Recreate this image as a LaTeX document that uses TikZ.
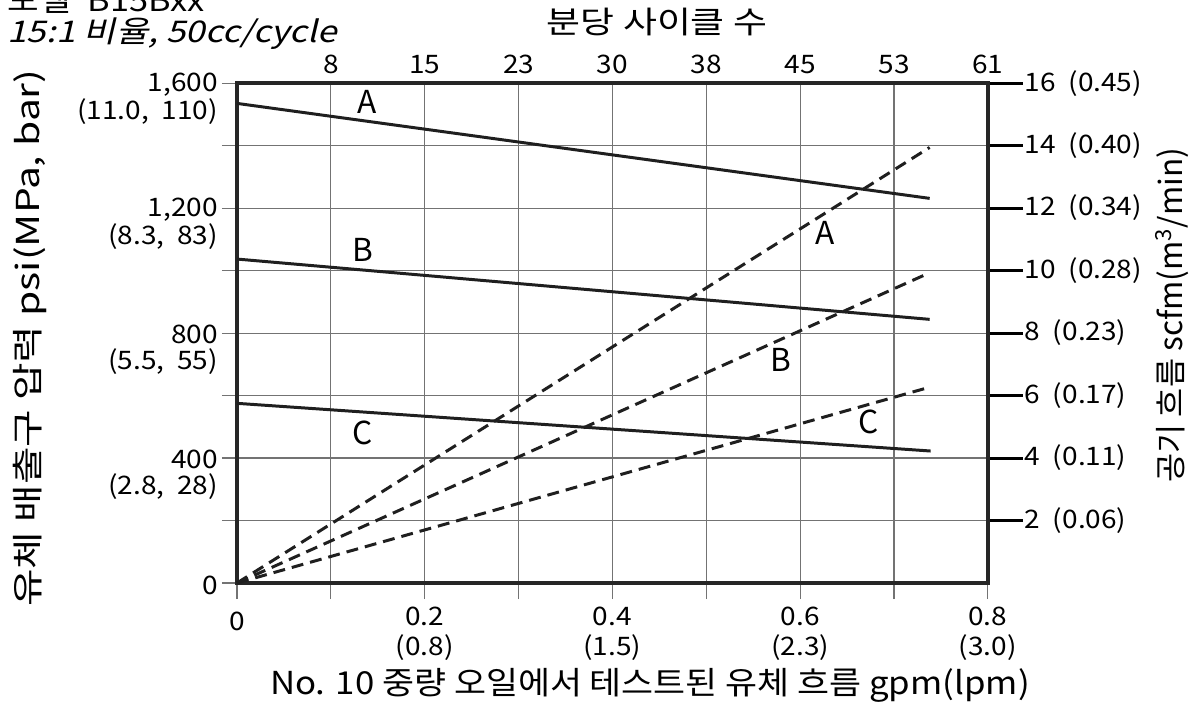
\documentclass[tikz,border=0pt]{standalone}
\usepackage{fontspec}
\newfontfamily\krfont{Noto Sans CJK KR}
\newfontfamily\krslant[FakeSlant=0.2]{Noto Sans CJK KR}
\newcommand\lgap{\hspace{0.45em}}
\usetikzlibrary{positioning}

\begin{document}
\begin{tikzpicture}[x=0.02cm,y=0.02cm,
    grid line/.style={black!55,line width=0.6pt},
    curve line/.style={black!88,line width=1.7pt},
    air line/.style={black!88,line width=1.7pt,dash pattern=on 6.8pt off 4pt},
    frame line/.style={black!85,line width=1.9pt},
    tick label/.style={font=\krfont\fontsize{14.5}{16}\selectfont,inner sep=0pt,xscale=1.1},
    axis title/.style={font=\krfont\fontsize{18}{20}\selectfont,inner sep=0pt},
    curve label/.style={font=\krfont\fontsize{18}{20}\selectfont,inner sep=0pt}]

    \useasboundingbox (0,0) rectangle (1191,706);

    \node[anchor=base west,inner sep=0pt,xscale=1.15,font=\krfont\fontsize{17}{19}\selectfont] (model) at (7,694) {모델\hspace{0.5em}B15Bxx};
    \node[anchor=base west,inner sep=0pt,xscale=1.18,font=\krslant\fontsize{17}{19}\selectfont] (ratio) at (7,663) {15:1 비율, 50cc/cycle};
    \node[inner sep=0pt,xscale=1.2,font=\krfont\fontsize{17.5}{19}\selectfont] (cycles) at (657,684) {분당 사이클 수};

    \node[axis title,xscale=1.1] (xtitle) at (650,21) {No. 10 중량 오일에서 테스트된 유체 흐름 gpm(lpm)};
    \node[axis title,rotate=90,xscale=1.29] (ytitle) at (30,368) {유체 배출구 압력 psi(MPa, bar)};
    \node[axis title,rotate=90] (airtitle) at (1172,391) {공기 흐름 scfm(m\textsuperscript{3}/min)};

    \begin{scope}[shift={(237,123)},x=1.8775cm,y=1.25cm]
        \coordinate (O) at (0,0);

        % grid
        \foreach \k in {1,...,7}
            \draw[grid line] (\k,-0.26) -- (\k,8);
        \draw[grid line] (0,-0.26) -- (0,0);
        \draw[grid line] (8,-0.26) -- (8,0);
        \foreach \k in {1,...,8}
            \draw[grid line] (-0.16,\k) -- (8,\k);
        \draw[grid line] (-0.16,0) -- (0,0);

        \foreach \k in {1,...,8}
            \draw[black,line width=1.7pt] (8,\k) -- (8.373,\k);

        \draw[frame line] (0,0) rectangle (8,8);

        % top scale
        \foreach \k/\n in {1/8,2/15,3/23,4/30,5/38,6/45,7/53,8/61}
            \node[tick label] (cyc\n) at (\k,8.3) {\n};

        % left scale
        \node[tick label,anchor=east] (psi0) at (-0.2,-0.04) {0};
        \foreach \k/\p/\m in {2/400/{(2.8,\lgap 28)},4/800/{(5.5,\lgap 55)},6/{1,200}/{(8.3,\lgap 83)},8/{1,600}/{(11.0,\lgap 110)}}{
            \node[tick label,anchor=east] (psi\k) at (-0.2,\k-0.03) {\p};
            \node[tick label,anchor=east] (bar\k) at (-0.2,\k-0.46) {\m};
        }

        % right scale
        \foreach \k/\s/\c in {1/2/0.06,2/4/0.11,3/6/0.17,4/8/0.23,5/10/0.28,6/12/0.34,7/14/0.40,8/16/0.45}
            \node[tick label,anchor=west] (scfm\s) at (8.39,\k) {\s\lgap(\c)};

        % bottom scale
        \node[tick label] (gpm0) at (0,-0.61) {0};
        \foreach \k/\g/\l in {2/0.2/0.8,4/0.4/1.5,6/0.6/2.3,8/0.8/3.0}{
            \node[tick label] (gpm\k) at (\k,-0.53) {\g};
            \node[tick label] (lpm\k) at (\k,-1.04) {(\l)};
        }

        % pressure curves
        \coordinate (pA0) at (0,7.675);
        \coordinate (pA1) at (7.38,6.155);
        \coordinate (pB0) at (0,5.184);
        \coordinate (pB1) at (7.38,4.219);
        \coordinate (pC0) at (0,2.875);
        \coordinate (pC1) at (7.39,2.112);
        \draw[curve line] (pA0) -- (pA1);
        \draw[curve line] (pB0) -- (pB1);
        \draw[curve line] (pC0) -- (pC1);

        % air curves
        \coordinate (qA) at (7.38,6.97);
        \coordinate (qB) at (7.38,4.965);
        \coordinate (qC) at (7.36,3.125);
        \draw[air line] (O) -- (qA);
        \draw[air line] (O) -- (qB);
        \draw[air line] (O) -- (qC);

        \node[curve label] (labpA) at (1.382,7.70) {A};
        \node[curve label] (labpB) at (1.342,5.328) {B};
        \node[curve label] (labpC) at (1.339,2.405) {C};
        \node[curve label] (labqA) at (6.264,5.595) {A};
        \node[curve label] (labqB) at (5.795,3.568) {B};
        \node[curve label] (labqC) at (6.725,2.581) {C};
    \end{scope}
\end{tikzpicture}
\end{document}
